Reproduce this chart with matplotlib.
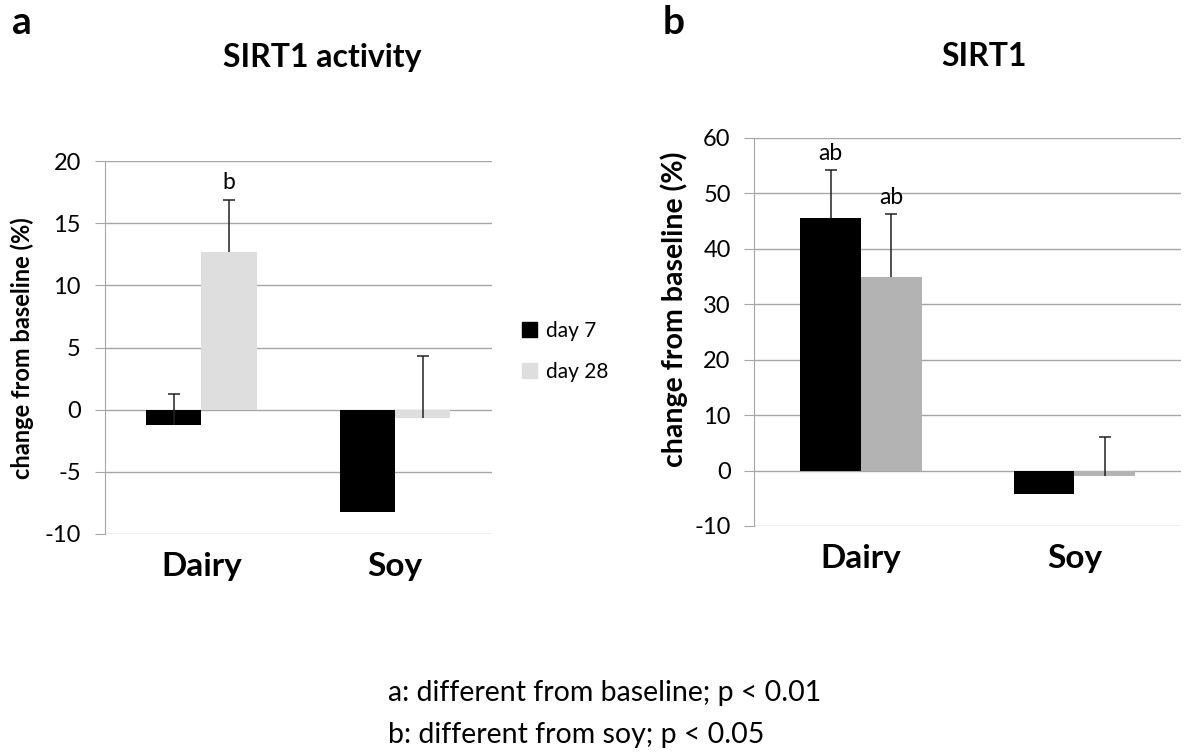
import matplotlib
matplotlib.use("Agg")
import matplotlib.pyplot as plt
import numpy as np

plt.rcParams['font.family'] = ['Lato', 'DejaVu Sans']
plt.rcParams['axes.unicode_minus'] = False

# data
groups = ['Dairy', 'Soy']
series = ['day 7', 'day 28']

act_day7 = [-1.2, -8.2]
act_day7_err = [2.5, 0.0]
act_day28 = [12.7, -0.65]
act_day28_err = [4.2, 4.95]
act_labels7 = ['', '']
act_labels28 = ['b', '']

sirt_day7 = [45.5, -4.3]
sirt_day7_err = [8.7, 0.0]
sirt_day28 = [34.8, -1.0]
sirt_day28_err = [11.4, 7.0]
sirt_labels7 = ['ab', '']
sirt_labels28 = ['ab', '']

W, H = 1200, 752
fig = plt.figure(figsize=(12, 7.52), dpi=100)

def px(x, y):
    return x / W, 1 - y / H

grid_c = '#a6a6a6'
bw = 0.285


def draw_err(ax, xs, vals, errs):
    # one-sided (upper) error bars, no cap at the bar end
    for xi, v, e in zip(xs, vals, errs):
        if e <= 0:
            continue
        ax.vlines(xi, v, v + e, color='#222222', linewidth=1.1, zorder=4)
        ax.plot([xi], [v + e], marker='_', markersize=8, markeredgewidth=1.1,
                color='#222222', zorder=4)


def panel(ax, v7, e7, v28, e28, c28, ylim, yticks, lab7, lab28):
    x = np.arange(len(groups))
    ax.bar(x - bw / 2, v7, bw, color='black', zorder=3)
    ax.bar(x + bw / 2, v28, bw, color=c28, zorder=3)
    draw_err(ax, x - bw / 2, v7, e7)
    draw_err(ax, x + bw / 2, v28, e28)
    for i in range(len(groups)):
        if lab7[i]:
            ax.annotate(lab7[i], (x[i] - bw / 2, v7[i] + e7[i]), xytext=(0, 12),
                        textcoords='offset points', ha='center', va='center', fontsize=16.5)
        if lab28[i]:
            ax.annotate(lab28[i], (x[i] + bw / 2, v28[i] + e28[i]), xytext=(0, 12),
                        textcoords='offset points', ha='center', va='center', fontsize=16.5)
    ax.set_xlim(-0.5, len(groups) - 0.5)
    ax.set_ylim(*ylim)
    ax.set_yticks(yticks)
    ax.yaxis.grid(True, color=grid_c, linewidth=1, zorder=0)
    ax.set_axisbelow(True)
    for s in ['top', 'right', 'bottom']:
        ax.spines[s].set_visible(False)
    ax.spines['left'].set_color(grid_c)
    ax.tick_params(axis='y', length=7, color=grid_c, labelsize=17, pad=10)
    ax.tick_params(axis='x', length=0, pad=13)
    ax.set_xticks(x)
    ax.set_xticklabels(groups, fontsize=24, fontweight='bold')


# panel a
l, b = px(104.5, 534)
ax1 = fig.add_axes([l, b, 387.3 / W, 373 / H])
panel(ax1, act_day7, act_day7_err, act_day28, act_day28_err, '#dedede',
      (-10, 20), np.arange(-10, 21, 5), act_labels7, act_labels28)

# panel b
l, b = px(754.3, 526)
ax2 = fig.add_axes([l, b, 426.7 / W, 388.3 / H])
panel(ax2, sirt_day7, sirt_day7_err, sirt_day28, sirt_day28_err, '#b3b3b3',
      (-10, 60), np.arange(-10, 61, 10), sirt_labels7, sirt_labels28)

# y labels
fig.text(*px(22, 348), 'change from baseline (%)', rotation=90, ha='center', va='center',
         fontsize=17, fontweight='bold')
fig.text(*px(674, 309), 'change from baseline (%)', rotation=90, ha='center', va='center',
         fontsize=20.5, fontweight='bold')

# titles and panel letters
fig.text(*px(322, 57), 'SIRT1 activity', ha='center', va='center', fontsize=23, fontweight='bold')
fig.text(*px(984, 57), 'SIRT1', ha='center', va='center', fontsize=23, fontweight='bold')
fig.text(*px(22, 22), 'a', ha='center', va='center', fontsize=28, fontweight='bold')
fig.text(*px(674, 22), 'b', ha='center', va='center', fontsize=28, fontweight='bold')

# legend
handles = [plt.Rectangle((0, 0), 1, 1, color='black'),
           plt.Rectangle((0, 0), 1, 1, color='#dedede')]
fig.legend(handles, series, loc='upper left', bbox_to_anchor=px(503, 302),
           frameon=False, fontsize=15, handlelength=0.75, handleheight=0.75,
           handletextpad=0.4, labelspacing=1.0)

# footnote
fig.text(*px(388, 693), 'a: different from baseline; p < 0.01', ha='left', va='center', fontsize=20.5)
fig.text(*px(388, 735), 'b: different from soy; p < 0.05', ha='left', va='center', fontsize=20.5)

fig.savefig('out.png', dpi=100)
